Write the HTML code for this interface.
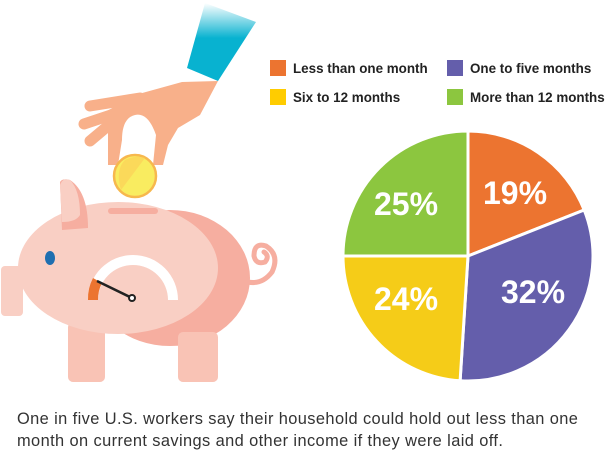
<!DOCTYPE html>
<html><head><meta charset="utf-8"><style>
body{margin:0;background:#fff;width:615px;height:450px;overflow:hidden;font-family:"Liberation Sans",sans-serif}
.lg{position:absolute;font-size:13.4px;color:#222;font-weight:bold}
.sq{position:absolute;width:16px;height:16px}
.cap{position:absolute;left:17px;top:408px;font-size:16.4px;letter-spacing:0.4px;color:#333;line-height:22px;white-space:nowrap}
</style></head><body>
<svg width="615" height="450" style="position:absolute;left:0;top:0">
<defs><linearGradient id="sl" x1="0" y1="1" x2="0" y2="0"><stop offset="0.55" stop-color="#08b2d0"/><stop offset="1" stop-color="#ffffff"/></linearGradient></defs>
<polygon points="187,68 205,3 256,22 218,81" fill="url(#sl)"/>
<g fill="#f8b08a">
<path d="M182,82 L218,81 L200,115 L178,128 L168,145 L163,165 L153,165 L156,135 Q148,112 135,115 Q122,118 122,140 L118,165 L108,165 L108,125 L100,115 L135,95 Z"/>
</g>
<g stroke="#f8b08a" stroke-width="11" stroke-linecap="round">
<line x1="90" y1="106" x2="140" y2="98"/>
<line x1="84" y1="124" x2="120" y2="112"/>
<line x1="90" y1="141" x2="115" y2="120"/>
</g>
<ellipse cx="170" cy="278" rx="80" ry="68" fill="#f6aea0"/>
<path d="M248,282 Q262,285 272,272 Q280,255 266,246 Q254,242 254,256 Q256,265 265,262 Q270,256 264,252" fill="none" stroke="#f6aea0" stroke-width="5" stroke-linecap="round"/>
<rect x="178" y="332" width="40" height="50" rx="5" fill="#f9c3b5"/>
<rect x="68" y="322" width="37" height="60" rx="5" fill="#f9c3b5"/>
<ellipse cx="118" cy="268" rx="100" ry="66" fill="#f9cfc4"/>
<rect x="1" y="266" width="22" height="50" rx="4" fill="#f9cfc4"/>
<path d="M60,182 Q62,178 70,180 Q88,192 88,228 L62,230 Z" fill="#f6aea0"/>
<path d="M60,186 Q62,177 70,180 Q80,190 80,215 Q76,222 62,222 Z" fill="#f9cfc4"/>
<line x1="111" y1="211" x2="155" y2="211" stroke="#f6aea0" stroke-width="6" stroke-linecap="round"/>
<ellipse cx="50" cy="258" rx="5" ry="7" fill="#1f6fb0"/>
<path d="M88,300 A45,45 0 0 1 178,300 L168,300 A35,35 0 0 0 98,300 Z" fill="#fff"/>
<path d="M88,300 A45,45 0 0 1 93,278 L102,283 A35,35 0 0 0 98,300 Z" fill="#ec7430"/>
<line x1="97" y1="281" x2="132" y2="298" stroke="#222" stroke-width="2.5"/>
<circle cx="132" cy="298" r="3" fill="#fff" stroke="#222" stroke-width="2"/>
<circle cx="135" cy="176" r="21" fill="#f9ec60" stroke="#f7b84e" stroke-width="2.5"/>
<path d="M121,190 L145,158 Q135,155 125,160 Q115,170 121,190Z" fill="#fbd95a"/>
<g stroke="#fff" stroke-width="3">
<path d="M468,256 L468,131 A125,125 0 0 1 584.2,210 Z" fill="#ec7430"/>
<path d="M468,256 L584.2,210 A125,125 0 0 1 460.1,380.8 Z" fill="#645eab"/>
<path d="M468,256 L460.1,380.8 A125,125 0 0 1 343,256 Z" fill="#f5cc18"/>
<path d="M468,256 L343,256 A125,125 0 0 1 468,131 Z" fill="#8cc63f"/>
</g>
<g fill="#fff" font-family="Liberation Sans,sans-serif" font-weight="bold" font-size="32" text-anchor="middle">
<text x="515" y="204">19%</text>
<text x="533" y="303">32%</text>
<text x="406" y="310">24%</text>
<text x="406" y="215">25%</text>
</g>
</svg>
<div class="sq" style="left:270px;top:60px;background:#ec7430"></div>
<div class="lg" style="left:293px;top:61px">Less than one month</div>
<div class="sq" style="left:447px;top:60px;background:#645eab"></div>
<div class="lg" style="left:470px;top:61px">One to five months</div>
<div class="sq" style="left:270px;top:89px;background:#ffcc00"></div>
<div class="lg" style="left:293px;top:90px">Six to 12 months</div>
<div class="sq" style="left:447px;top:89px;background:#8cc63f"></div>
<div class="lg" style="left:470px;top:90px">More than 12 months</div>
<div class="cap">One in five U.S. workers say their household could hold out less than one<br>month on current savings and other income if they were laid off.</div>
</body></html>
